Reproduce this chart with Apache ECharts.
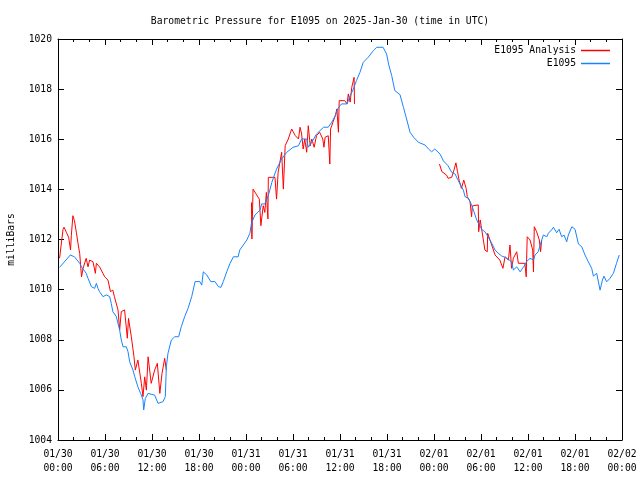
<!DOCTYPE html>
<html><head><meta charset="utf-8">
<script src="https://cdn.jsdelivr.net/npm/echarts@6/dist/echarts.min.js"></script>
<style>html,body{margin:0;padding:0;background:#fff}#c{width:640px;height:480px}</style>
</head><body><div id="c"></div>
<script>
const titleText = 'Barometric Pressure for E1095 on 2025-Jan-30 (time in UTC)';
const xTickLabels = ['01/30\n00:00','01/30\n06:00','01/30\n12:00','01/30\n18:00','01/31\n00:00','01/31\n06:00','01/31\n12:00','01/31\n18:00','02/01\n00:00','02/01\n06:00','02/01\n12:00','02/01\n18:00','02/02\n00:00'];
const yTickLabels = [1004,1006,1008,1010,1012,1014,1016,1018,1020];

// E1095 observations (hours since 01/30 00:00 UTC, mbar)
const blueHours = [0.2,1.57,2.1,2.77,3.0,3.6,3.83,4.26,4.68,4.9,5.1,5.3,5.74,6.17,6.6,6.8,7.0,7.45,7.87,8.08,8.3,8.72,8.94,9.15,9.57,9.8,10.2,10.55,10.85,10.94,11.15,11.5,12.34,12.77,13.4,13.7,13.83,14.04,14.47,14.9,15.4,15.74,16.17,16.6,17.07,17.5,18.1,18.35,18.55,19.0,19.5,20.04,20.47,20.8,21.1,21.54,21.96,22.4,23.0,23.2,23.66,24.1,24.5,24.7,25.15,25.8,26.0,26.4,26.85,27.3,27.9,28.55,29.2,30.0,30.7,31.1,31.75,31.95,32.4,33.0,33.9,34.5,34.95,35.4,35.8,36.2,36.9,37.3,37.7,38.1,38.55,38.97,39.6,40.25,40.7,41.5,41.95,42.2,42.6,43.0,43.66,44.1,44.5,44.94,45.4,46.0,46.85,47.3,47.7,48.1,48.77,49.2,49.8,50.26,50.7,51.0,51.33,51.75,51.96,52.4,52.8,53.1,53.45,53.8,54.1,54.5,54.9,55.37,55.8,56.2,56.65,57.07,57.5,57.9,58.13,58.56,59.0,59.3,59.6,59.8,60.26,60.7,60.9,61.3,61.75,61.96,62.4,62.6,63.0,63.25,63.66,63.96,64.3,64.6,64.94,65.15,65.6,65.8,66.0,66.44,66.86,67.28,67.7,68.13,68.35,68.77,69.2,69.5,69.7,70.04,70.47,70.9,71.3,71.65];
const bluePressure = [1010.89,1011.38,1011.31,1011.05,1010.91,1010.65,1010.45,1010.12,1010.05,1010.25,1010.05,1009.92,1009.72,1009.79,1009.72,1009.45,1009.12,1008.92,1008.39,1007.99,1007.72,1007.72,1007.52,1007.12,1006.79,1006.52,1006.12,1005.86,1005.6,1005.2,1005.66,1005.86,1005.79,1005.46,1005.53,1005.73,1006.92,1007.46,1007.99,1008.12,1008.12,1008.52,1008.92,1009.25,1009.72,1010.32,1010.32,1010.18,1010.71,1010.58,1010.32,1010.32,1010.12,1010.09,1010.32,1010.71,1011.05,1011.31,1011.31,1011.58,1011.78,1011.98,1012.25,1012.65,1012.98,1013.18,1013.42,1013.42,1013.75,1014.28,1014.81,1015.21,1015.48,1015.68,1015.74,1016.01,1016.01,1015.68,1015.88,1016.21,1016.48,1016.48,1016.68,1016.94,1017.27,1017.41,1017.41,1017.74,1018.0,1018.34,1018.67,1019.07,1019.27,1019.53,1019.67,1019.67,1019.4,1019.0,1018.54,1017.94,1017.78,1017.27,1016.81,1016.28,1016.08,1015.88,1015.77,1015.61,1015.5,1015.61,1015.41,1015.14,1014.94,1014.68,1014.61,1014.41,1014.21,1013.97,1013.71,1013.64,1013.38,1013.11,1012.78,1012.58,1012.4,1012.31,1012.11,1011.85,1011.58,1011.45,1011.34,1011.29,1011.21,1011.11,1010.78,1010.91,1010.71,1010.85,1010.98,1011.11,1011.25,1011.18,1011.38,1011.51,1011.98,1012.18,1012.11,1012.25,1012.38,1012.49,1012.27,1012.41,1012.11,1012.18,1011.91,1012.18,1012.51,1012.58,1012.41,1011.82,1011.71,1011.38,1011.11,1010.85,1010.54,1010.65,1009.98,1010.38,1010.54,1010.31,1010.45,1010.65,1011.05,1011.38];

// E1095 Analysis, three segments
const red1Hours = [0.2,0.64,0.77,1.06,1.36,1.6,1.7,1.9,2.1,2.34,2.55,2.77,3.0,3.2,3.6,3.83,4.04,4.47,4.77,4.9,5.3,5.74,5.96,6.38,6.7,7.0,7.2,7.66,7.87,8.08,8.5,8.7,8.85,9.0,9.36,9.7,9.87,10.2,10.64,10.85,11.07,11.28,11.5,11.7,11.9,12.34,12.68,13.0,13.28,13.62,13.83];
const red1Pressure = [1011.25,1012.4,1012.49,1012.29,1012.09,1011.58,1012.15,1012.95,1012.75,1012.29,1011.85,1011.45,1010.51,1010.85,1011.25,1010.91,1011.18,1011.11,1010.65,1011.05,1010.91,1010.65,1010.51,1010.38,1009.92,1009.98,1009.72,1009.19,1008.39,1009.12,1009.19,1009.23,1008.06,1008.85,1008.12,1007.32,1006.79,1007.19,1006.26,1005.73,1006.52,1005.99,1007.32,1007.39,1006.26,1006.79,1007.06,1005.86,1006.66,1007.26,1006.79];
const red2Hours = [24.7,24.75,24.9,25.3,25.7,25.9,26.2,26.4,26.6,26.8,26.85,27.7,27.9,28.1,28.55,28.77,29.0,29.4,29.83,30.3,30.7,30.9,31.1,31.3,31.5,31.75,31.95,32.2,32.4,32.7,33.0,33.4,33.8,33.95,34.1,34.5,34.7,34.8,35.1,35.4,35.6,35.8,35.9,36.6,36.9,37.06,37.3,37.5,37.8,37.85];
const red2Pressure = [1013.48,1012.02,1014.01,1013.81,1013.61,1012.55,1013.35,1013.08,1013.88,1012.82,1014.48,1014.48,1013.61,1014.68,1015.48,1014.01,1015.74,1016.01,1016.41,1016.14,1016.01,1016.48,1016.21,1015.61,1016.01,1015.48,1016.54,1015.74,1016.01,1015.68,1016.14,1016.28,1016.01,1015.68,1016.08,1016.14,1015.01,1016.41,1016.68,1016.94,1017.21,1016.28,1017.54,1017.54,1017.41,1017.81,1017.48,1018.07,1018.47,1017.41];
const red3Hours = [48.7,49.0,49.6,49.8,50.26,50.55,50.8,51.0,51.2,51.5,51.8,52.1,52.25,52.6,52.8,52.9,53.65,53.7,53.9,54.2,54.5,54.8,54.85,55.37,55.8,56.4,56.8,57.07,57.5,57.7,57.9,58.13,58.56,58.77,59.6,59.77,59.9,60.26,60.6,60.7,60.8,61.1,61.45,61.6,61.75];
const red3Pressure = [1015.01,1014.71,1014.57,1014.44,1014.48,1014.77,1015.06,1014.71,1014.37,1014.04,1014.37,1014.04,1013.71,1013.51,1012.91,1013.34,1013.38,1012.31,1012.78,1012.18,1011.58,1011.51,1012.25,1011.78,1011.38,1011.18,1010.85,1011.31,1011.18,1011.78,1010.85,1011.25,1011.51,1011.05,1011.05,1010.51,1012.11,1011.98,1011.58,1010.71,1012.51,1012.31,1011.98,1011.51,1011.98];

const zip = (a, b) => a.map((v, i) => [v, b[i]]);
const FONT = 'DejaVu Sans Mono';
const FS = 9.7;
const RED = '#ff0000';
const BLUE = '#1684ff';

const chart = echarts.init(document.getElementById('c'), null, {renderer: 'canvas'});
const baseX = {
  type: 'value', min: 0, max: 72, interval: 6,
  axisLine: {show: true, onZero: false, lineStyle: {color: '#000', width: 1}},
  axisTick: {show: true, inside: true, length: 6, lineStyle: {color: '#000'}},
  minorTick: {show: true, splitNumber: 3, length: 3, lineStyle: {color: '#000'}},
  splitLine: {show: false}
};
const baseY = {
  type: 'value', min: 1004, max: 1020, interval: 2,
  axisLine: {show: true, onZero: false, lineStyle: {color: '#000', width: 1}},
  axisTick: {show: true, inside: true, length: 6, lineStyle: {color: '#000'}},
  splitLine: {show: false}
};
const lineSeries = (name, data, color) => ({
  name, type: 'line', data, xAxisIndex: 0, yAxisIndex: 0,
  showSymbol: false, symbol: 'none', animation: false,
  lineStyle: {color, width: 1}, itemStyle: {color}
});
chart.setOption({
  animation: false,
  title: {text: titleText, left: 'center', top: 11,
    textStyle: {fontFamily: FONT, fontSize: FS, fontWeight: 'normal', color: '#000'}},
  legend: [
    {data: [{name: 'E1095 Analysis', icon: 'rect'}], right: 25, top: 40.5, align: 'right', itemWidth: 29, itemHeight: 1.5,
      textStyle: {fontFamily: FONT, fontSize: FS, color: '#000'}, selectedMode: false},
    {data: [{name: 'E1095', icon: 'rect'}], right: 25, top: 53.5, align: 'right', itemWidth: 29, itemHeight: 1.5,
      textStyle: {fontFamily: FONT, fontSize: FS, color: '#000'}, selectedMode: false}
  ],
  grid: {left: 58, right: 18, top: 39, bottom: 40, containLabel: false, outerBoundsMode: 'none'},
  xAxis: [
    Object.assign({}, baseX, {position: 'bottom',
      axisLabel: {show: true, margin: 7, lineHeight: 14, fontFamily: FONT, fontSize: FS, color: '#000',
        formatter: v => xTickLabels[Math.round(v / 6)]}}),
    Object.assign({}, baseX, {position: 'top', axisLabel: {show: false}})
  ],
  yAxis: [
    Object.assign({}, baseY, {position: 'left',
      name: 'milliBars', nameLocation: 'middle', nameRotate: 90, nameGap: 42,
      nameTextStyle: {fontFamily: FONT, fontSize: FS, color: '#000'},
      axisLabel: {show: true, margin: 6, fontFamily: FONT, fontSize: FS, color: '#000',
        formatter: v => String(yTickLabels[Math.round((v - 1004) / 2)])}}),
    Object.assign({}, baseY, {position: 'right', axisLabel: {show: false}})
  ],
  series: [
    lineSeries('E1095 Analysis', zip(red1Hours, red1Pressure), RED),
    lineSeries('E1095 Analysis', zip(red2Hours, red2Pressure), RED),
    lineSeries('E1095 Analysis', zip(red3Hours, red3Pressure), RED),
    lineSeries('E1095', zip(blueHours, bluePressure), BLUE)
  ]
});
</script></body></html>
